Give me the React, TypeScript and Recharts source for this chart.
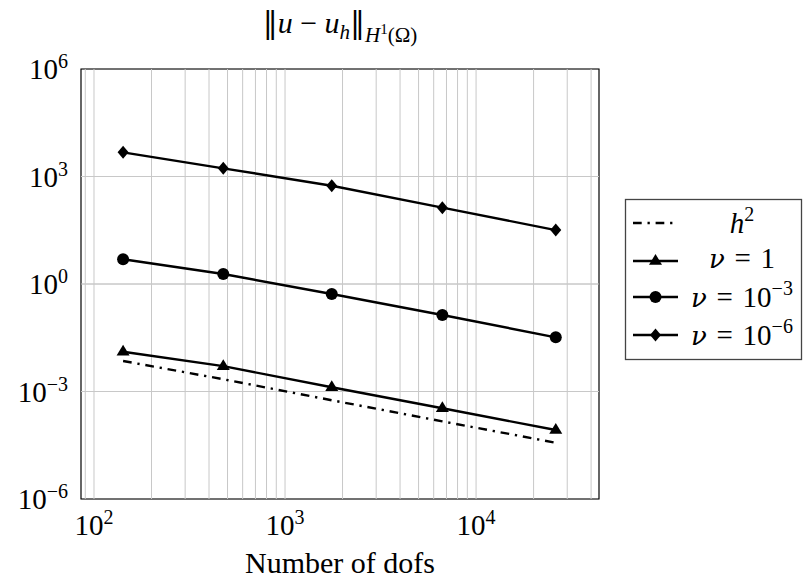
import React from 'react';
import { LineChart, Line, XAxis, YAxis, CartesianGrid, ReferenceArea, ReferenceLine } from 'recharts';

// ---- data ----
const dofs = [142, 475, 1756, 6660, 26130];
const h2Values = [7.1e-3, 2.2e-3, 5.7e-4, 1.47e-4, 3.72e-5];
const nu1Values = [1.29e-2, 5.1e-3, 1.31e-3, 3.4e-4, 8.4e-5];
const nu3Values = [4.9, 1.9, 0.525, 0.136, 0.0325];
const nu6Values = [4730, 1690, 553, 135, 32];

const xTicks = [100, 1000, 10000];
const yTicks = [1e-6, 1e-3, 1, 1e3, 1e6];
const xGridValues = [
  90, 100, 200, 300, 400, 500, 600, 700, 800, 900,
  1000, 2000, 3000, 4000, 5000, 6000, 7000, 8000, 9000,
  10000, 20000, 30000, 40000,
];
const yGridValues = [1e-3, 1, 1e3];
const xDomain = [85.5, 44000];
const yDomain = [1e-6, 1e6];

const data = dofs.map((x, i) => ({
  x,
  h2: h2Values[i],
  nu1: nu1Values[i],
  nu3: nu3Values[i],
  nu6: nu6Values[i],
}));

const FONT = '"Liberation Serif", "DejaVu Serif", serif';
const GREEK = '"DejaVu Serif", serif';
const W = 803;
const H = 581;
const GRID = '#c8c8c8';

const sup = (v: number) => {
  const e = Math.round(Math.log10(v));
  return e < 0 ? '\u2212' + Math.abs(e) : String(e);
};

const XTick = (props: any) => {
  const { x, y, payload } = props;
  return (
    <text x={x} y={y + 36} textAnchor="middle" fontFamily={FONT} fontSize={29} fill="#000">
      10<tspan dy={-11} fontSize={20}>{sup(payload.value)}</tspan>
    </text>
  );
};

const YTick = (props: any) => {
  const { x, y, payload } = props;
  return (
    <text x={x - 13} y={y + 10} textAnchor="end" fontFamily={FONT} fontSize={29} fill="#000">
      10<tspan dy={-11} fontSize={20}>{sup(payload.value)}</tspan>
    </text>
  );
};

const Triangle = (props: any) => {
  const { cx, cy, index } = props;
  if (cx == null || cy == null) return <g key={index} />;
  return <path key={index} d={`M${cx},${cy - 7}L${cx + 6.5},${cy + 3.8}L${cx - 6.5},${cy + 3.8}Z`} fill="#000" />;
};
const Circle = (props: any) => {
  const { cx, cy, index } = props;
  if (cx == null || cy == null) return <g key={index} />;
  return <circle key={index} cx={cx} cy={cy} r={6} fill="#000" />;
};
const Diamond = (props: any) => {
  const { cx, cy, index } = props;
  if (cx == null || cy == null) return <g key={index} />;
  return <path key={index} d={`M${cx},${cy - 6.5}L${cx + 5.5},${cy}L${cx},${cy + 6.5}L${cx - 5.5},${cy}Z`} fill="#000" />;
};

const DASHDOT = '8.7 5.8 2.3 5.8';

const legendRows = [
  { key: 'h2', y: 223 },
  { key: 'nu1', y: 261 },
  { key: 'nu3', y: 297 },
  { key: 'nu6', y: 335 },
];

const Overlay = () => {
  const lx1 = 633;
  const lx2 = 678;
  const mx = 655.5;
  const tx = 742;
  const sp = '\u2004';
  return (
    <svg width={W} height={H} style={{ position: 'absolute', left: 0, top: 0, pointerEvents: 'none' }}>
      {/* title */}
      <text x={340} y={33} textAnchor="middle" fontFamily={FONT} fontSize={30} fill="#000">
        <tspan fontFamily={GREEK}>{'\u2016'}</tspan>
        <tspan fontStyle="italic">u</tspan>
        <tspan>{'\u2005\u2212\u2005'}</tspan>
        <tspan fontStyle="italic">u</tspan>
        <tspan fontStyle="italic" fontSize={21} dy={6}>h</tspan>
        <tspan dy={-6} fontFamily={GREEK}>{'\u2016'}</tspan>
        <tspan fontStyle="italic" fontSize={21} dy={9}>H</tspan>
        <tspan fontSize={15} dy={-8}>1</tspan>
        <tspan fontSize={21} dy={8}>(Ω)</tspan>
      </text>
      {/* legend */}
      <rect x={625.5} y={199.5} width={176} height={160} fill="#fff" stroke="#444" strokeWidth={1.3} />
      {legendRows.map((r) => (
        <g key={r.key}>
          <line
            x1={lx1}
            x2={lx2}
            y1={r.y}
            y2={r.y}
            stroke="#000"
            strokeWidth={2.4}
            strokeDasharray={r.key === 'h2' ? DASHDOT : undefined}
          />
          {r.key === 'nu1' && <Triangle cx={mx} cy={r.y} index={0} />}
          {r.key === 'nu3' && <Circle cx={mx} cy={r.y} index={0} />}
          {r.key === 'nu6' && <Diamond cx={mx} cy={r.y} index={0} />}
        </g>
      ))}
      <text x={tx} y={233} textAnchor="middle" fontFamily={FONT} fontSize={29} fill="#000">
        <tspan fontStyle="italic">h</tspan>
        <tspan fontSize={20} dy={-12}>2</tspan>
      </text>
      <text x={tx} y={268} textAnchor="middle" fontFamily={FONT} fontSize={29} fill="#000">
        <tspan fontStyle="italic" fontFamily={GREEK} fontSize={26}>ν</tspan>
        {sp + '=' + sp + '1'}
      </text>
      <text x={tx} y={307} textAnchor="middle" fontFamily={FONT} fontSize={29} fill="#000">
        <tspan fontStyle="italic" fontFamily={GREEK} fontSize={26}>ν</tspan>
        {sp + '=' + sp + '10'}
        <tspan fontSize={20} dy={-12}>{'\u22123'}</tspan>
      </text>
      <text x={tx} y={345} textAnchor="middle" fontFamily={FONT} fontSize={29} fill="#000">
        <tspan fontStyle="italic" fontFamily={GREEK} fontSize={26}>ν</tspan>
        {sp + '=' + sp + '10'}
        <tspan fontSize={20} dy={-12}>{'\u22126'}</tspan>
      </text>
    </svg>
  );
};

export default function App() {
  return (
    <div style={{ position: 'absolute', left: 0, top: 0, width: W, height: H, background: '#fff' }}>
      <LineChart width={W} height={H} data={data} margin={{ top: 69, right: 204, bottom: 0, left: 0 }}>
        <CartesianGrid stroke={GRID} strokeWidth={1} vertical={false} />
        {xGridValues.map((v) => (
          <ReferenceLine key={'gx' + v} x={v} stroke={GRID} strokeWidth={1} ifOverflow="hidden" />
        ))}
        {yGridValues.map((v) => (
          <ReferenceLine key={'gy' + v} y={v} stroke={GRID} strokeWidth={1} ifOverflow="hidden" />
        ))}
        <XAxis
          dataKey="x"
          type="number"
          scale="log"
          domain={xDomain}
          allowDataOverflow
          ticks={xTicks}
          tick={<XTick />}
          tickLine={false}
          axisLine={false}
          tickSize={0}
          tickMargin={0}
          height={82}
          label={{ value: 'Number of dofs', position: 'insideBottom', offset: 0, dy: -8, fontFamily: FONT, fontSize: 30, fill: '#000' }}
        />
        <YAxis
          type="number"
          scale="log"
          domain={yDomain}
          allowDataOverflow
          ticks={yTicks}
          tick={<YTick />}
          tickLine={false}
          axisLine={false}
          tickSize={0}
          tickMargin={0}
          width={81}
        />
        <Line dataKey="h2" stroke="#000" strokeWidth={2.4} strokeDasharray={DASHDOT} dot={false} activeDot={false} isAnimationActive={false} />
        <Line dataKey="nu1" stroke="#000" strokeWidth={2.4} dot={<Triangle />} activeDot={false} isAnimationActive={false} />
        <Line dataKey="nu3" stroke="#000" strokeWidth={2.4} dot={<Circle />} activeDot={false} isAnimationActive={false} />
        <Line dataKey="nu6" stroke="#000" strokeWidth={2.4} dot={<Diamond />} activeDot={false} isAnimationActive={false} />
        <ReferenceArea
          x1={xDomain[0]}
          x2={xDomain[1]}
          y1={yDomain[0]}
          y2={yDomain[1]}
          fill="none"
          fillOpacity={0}
          stroke="#000"
          strokeWidth={1.2}
          ifOverflow="visible"
        />
      </LineChart>
      <Overlay />
    </div>
  );
}
